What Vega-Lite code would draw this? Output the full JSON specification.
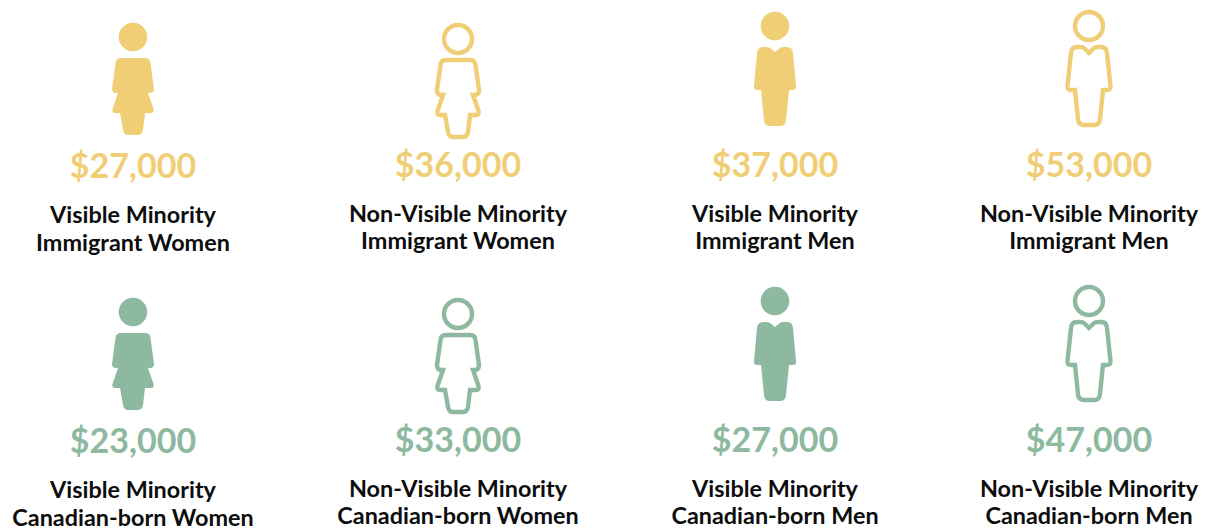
{"$schema":"https://vega.github.io/schema/vega-lite/v6.json","width":1205,"height":529,"padding":0,"autosize":{"type":"none"},"background":"white","config":{"view":{"stroke":null}},
"data":{"values":[
{"col":1,"row":1,"origin":"Immigrant","icon":"woman filled","filled":true,"income":27000,"line1":"Visible Minority","line2":"Immigrant Women"},
{"col":2,"row":1,"origin":"Immigrant","icon":"woman outline","filled":false,"income":36000,"line1":"Non-Visible Minority","line2":"Immigrant Women"},
{"col":3,"row":1,"origin":"Immigrant","icon":"man filled","filled":true,"income":37000,"line1":"Visible Minority","line2":"Immigrant Men"},
{"col":4,"row":1,"origin":"Immigrant","icon":"man outline","filled":false,"income":53000,"line1":"Non-Visible Minority","line2":"Immigrant Men"},
{"col":1,"row":2,"origin":"Canadian-born","icon":"woman filled","filled":true,"income":23000,"line1":"Visible Minority","line2":"Canadian-born Women"},
{"col":2,"row":2,"origin":"Canadian-born","icon":"woman outline","filled":false,"income":33000,"line1":"Non-Visible Minority","line2":"Canadian-born Women"},
{"col":3,"row":2,"origin":"Canadian-born","icon":"man filled","filled":true,"income":27000,"line1":"Visible Minority","line2":"Canadian-born Men"},
{"col":4,"row":2,"origin":"Canadian-born","icon":"man outline","filled":false,"income":47000,"line1":"Non-Visible Minority","line2":"Canadian-born Men"}
]},
"encoding":{
"x":{"field":"col","type":"quantitative","axis":null,"scale":{"domain":[1,2,3,4],"range":[133,458,775,1089]}},
"y":{"field":"row","type":"quantitative","axis":null,"scale":{"domain":[1,2],"range":[80,355]}}
},
"layer":[
{"mark":{"type":"point","size":4,"opacity":1},
"encoding":{
"shape":{"field":"icon","type":"nominal","legend":null,"scale":{"domain":["woman filled","woman outline","man filled","man outline"],"range":[
"M-14.3,-43A14.3,14.3,0,1,0,14.3,-43A14.3,14.3,0,1,0,-14.3,-43ZM-12,-22L12,-22Q17,-22,17.5,-17L21,9Q21,13,17,13L15,13L20.5,29Q21.5,33,18,33L12,33L10,50Q9,55,5,55L-5,55Q-9,55,-10,50L-13,33L-18,33Q-21.5,33,-20.5,29L-15,13L-17,13Q-21,13,-21,9L-17.5,-17Q-17,-22,-12,-22Z",
"M-14,-41A14,14,0,1,0,14,-41A14,14,0,1,0,-14,-41ZM-12,-20L12,-20Q17,-20,17.5,-15L21,10Q21,15,17,15L15,15L20.5,31Q21.5,35,18,35L12,35L10,52Q9,57,5,57L-5,57Q-9,57,-10,52L-13,35L-18,35Q-21.5,35,-20.5,31L-15,15L-17,15Q-21,15,-21,10L-17.5,-15Q-17,-20,-12,-20Z",
"M-14.3,-54A14.3,14.3,0,1,0,14.3,-54A14.3,14.3,0,1,0,-14.3,-54ZM0,-28L-5,-32Q-6,-33,-9,-33L-12,-33Q-17.5,-33,-18,-27L-21,6Q-21.5,10,-18,10L-14,10L-11,40Q-10.5,46,-5,46L5,46Q10.5,46,11,40L14,10L18,10Q21.5,10,21,6L18,-27Q17.5,-33,12,-33L9,-33Q6,-33,5,-32Z",
"M-14,-54A14,14,0,1,0,14,-54A14,14,0,1,0,-14,-54ZM0,-27L-5,-32Q-6,-33,-9,-33L-12,-33Q-17.5,-33,-18,-27L-21.5,6Q-22,10,-18,10L-14,10L-11,39Q-10.5,45,-5,45L5,45Q10.5,45,11,39L14,10L18,10Q22,10,21.5,6L18,-27Q17.5,-33,12,-33L9,-33Q6,-33,5,-32Z"
]}},
"stroke":{"field":"origin","type":"nominal","legend":null,"scale":{"domain":["Immigrant","Canadian-born"],"range":["#F0CE76","#8DB9A0"]}},
"fill":{"condition":{"test":"datum.filled","field":"origin","type":"nominal","legend":null,"scale":{"domain":["Immigrant","Canadian-born"],"range":["#F0CE76","#8DB9A0"]}},"value":"transparent"},
"strokeWidth":{"condition":{"test":"datum.filled","value":0},"value":4.4}
}},
{"transform":[{"filter":"datum.col==1"}],"mark":{"type":"text","font":"Lato","fontWeight":700,"fontSize":34,"dy":87.5,"baseline":"middle","align":"center"},
"encoding":{"text":{"field":"income","type":"quantitative","format":"$,.0f"},
"color":{"field":"origin","type":"nominal","legend":null,"scale":{"domain":["Immigrant","Canadian-born"],"range":["#F0CE76","#8DB9A0"]}}}},
{"transform":[{"filter":"datum.col!=1"}],"mark":{"type":"text","font":"Lato","fontWeight":700,"fontSize":34,"dy":86.5,"baseline":"middle","align":"center"},
"encoding":{"text":{"field":"income","type":"quantitative","format":"$,.0f"},
"color":{"field":"origin","type":"nominal","legend":null,"scale":{"domain":["Immigrant","Canadian-born"],"range":["#F0CE76","#8DB9A0"]}}}},
{"transform":[{"filter":"datum.col==1"}],"mark":{"type":"text","font":"Lato","fontWeight":700,"fontSize":23.4,"dy":136,"baseline":"middle","align":"center","color":"#0d0d0d"},
"encoding":{"text":{"field":"line1","type":"nominal"}}},
{"transform":[{"filter":"datum.col==1"}],"mark":{"type":"text","font":"Lato","fontWeight":700,"fontSize":23.4,"dy":163.5,"baseline":"middle","align":"center","color":"#0d0d0d"},
"encoding":{"text":{"field":"line2","type":"nominal"}}},
{"transform":[{"filter":"datum.col!=1"}],"mark":{"type":"text","font":"Lato","fontWeight":700,"fontSize":23.4,"dy":135,"baseline":"middle","align":"center","color":"#0d0d0d"},
"encoding":{"text":{"field":"line1","type":"nominal"}}},
{"transform":[{"filter":"datum.col!=1"}],"mark":{"type":"text","font":"Lato","fontWeight":700,"fontSize":23.4,"dy":162,"baseline":"middle","align":"center","color":"#0d0d0d"},
"encoding":{"text":{"field":"line2","type":"nominal"}}}
]}
